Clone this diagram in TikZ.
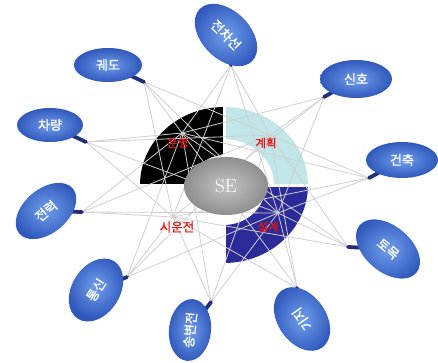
\documentclass[tikz,border=0pt]{standalone}
\usepackage{fontspec}
\newfontfamily\kr[AutoFakeBold=1.2]{Noto Sans CJK KR}
\usetikzlibrary{shapes.geometric}

\definecolor{balloonin}{RGB}{112,158,236}
\definecolor{balloonout}{RGB}{48,88,188}
\definecolor{stemnavy}{RGB}{34,48,120}
\definecolor{webgray}{RGB}{208,208,208}
\definecolor{ringcyan}{RGB}{192,230,233}
\definecolor{ringblue}{RGB}{42,42,152}
\definecolor{labelred}{RGB}{228,22,22}
\definecolor{sein}{RGB}{196,196,196}
\definecolor{seout}{RGB}{142,142,142}

\tikzset{
  balloon/.style={ellipse, inner sep=0pt, inner color=balloonin, outer color=balloonout,
    text=white, font=\kr\bfseries\fontsize{13}{13}\selectfont},
  tail/.style={draw=stemnavy, line width=3.8pt, line cap=round},
  web/.style={draw=webgray, line width=0.8pt},
  phase/.style={text=labelred, font=\kr\bfseries\fontsize{11.5}{12}\selectfont, inner sep=0pt},
}

\begin{document}
\begin{tikzpicture}[x=1pt,y=1pt]
\clip (0,0) rectangle (438,-363);
\fill[white] (0,0) rectangle (438,-363);

% ring quarters around the centre (224,-185)
\fill[black] (140,-185) arc[start angle=180,end angle=90,x radius=84,y radius=78]
  -- (224,-155) arc[start angle=90,end angle=180,x radius=32,y radius=30] -- cycle;
\fill[ringcyan] (224,-107) arc[start angle=90,end angle=0,x radius=84,y radius=78]
  -- (274,-185) arc[start angle=0,end angle=90,x radius=50,y radius=46] -- cycle;
\fill[ringblue] (308,-185) arc[start angle=0,end angle=-90,x radius=84,y radius=78]
  -- (224,-225) arc[start angle=-90,end angle=0,x radius=42,y radius=40] -- cycle;
\draw[white, line width=3pt] (224.5,-100) -- (224.5,-270);
\draw[white, line width=3pt] (130,-185.5) -- (320,-185.5);

% hubs of the four phases
\coordinate (h-op) at (182,-133);
\coordinate (h-pl) at (270,-135);
\coordinate (h-de) at (278,-213);
\coordinate (h-tr) at (173,-217);

% balloon centres and tail ends
\coordinate (c-gd) at (108,-65);  \coordinate (s-gd) at (144,-82);
\coordinate (c-cr) at (50,-125);  \coordinate (s-cr) at (86,-142);
\coordinate (c-jr) at (46,-211);  \coordinate (s-jr) at (82,-212);
\coordinate (c-ts) at (96,-290);  \coordinate (s-ts) at (127,-277);
\coordinate (c-sb) at (190,-330); \coordinate (s-sb) at (211,-302);
\coordinate (c-gj) at (302,-319); \coordinate (s-gj) at (297,-288);
\coordinate (c-tm) at (388,-249); \coordinate (s-tm) at (348,-247);
\coordinate (c-gc) at (402,-160); \coordinate (s-gc) at (369,-178);
\coordinate (c-sh) at (356,-79);  \coordinate (s-sh) at (324,-97);
\coordinate (c-jc) at (226,-35);  \coordinate (s-jc) at (231,-65);

% web of links from every tail to every phase hub
\foreach \s in {gd,cr,jr,ts,sb,gj,tm,gc,sh,jc}
  \foreach \h in {op,pl,de,tr}
    \draw[web] (s-\s) -- (h-\h);

% centre
\node[ellipse, minimum width=84pt, minimum height=58pt, inner color=sein, outer color=seout,
  text=white, font=\fontsize{19}{19}\selectfont] (se) at (226,-186) {SE};

% phase labels
\node[phase] (l-op) at (178,-143) {운영};
\node[phase] (l-pl) at (266,-143) {계획};
\node[phase] (l-de) at (268,-227) {설계};
\node[phase, font=\kr\bfseries\fontsize{12.5}{13}\selectfont] (l-tr) at (177,-227) {시운전};

% balloons
\foreach \s in {gd,cr,jr,ts,sb,gj,tm,gc,sh,jc}
  \draw[tail] (c-\s) -- (s-\s);

\node[balloon, minimum width=68pt, minimum height=34pt] (b-gd) at (c-gd) {궤도};
\node[balloon, minimum width=66pt, minimum height=34pt] (b-cr) at (c-cr) {차량};
\node[balloon, minimum width=70pt, minimum height=44pt, rotate=40] (b-jr) at (c-jr) {전력};
\node[balloon, minimum width=68pt, minimum height=48pt, rotate=58] (b-ts) at (c-ts) {통신};
\node[balloon, minimum width=62pt, minimum height=42pt, rotate=84] (b-sb) at (c-sb) {송변전};
\node[balloon, minimum width=70pt, minimum height=48pt, rotate=125] (b-gj) at (c-gj) {기지};
\node[balloon, minimum width=74pt, minimum height=46pt, rotate=-40] (b-tm) at (c-tm) {토목};
\node[balloon, minimum width=72pt, minimum height=36pt] (b-gc) at (c-gc) {건축};
\node[balloon, minimum width=72pt, minimum height=38pt] (b-sh) at (c-sh) {신호};
\node[balloon, minimum width=74pt, minimum height=48pt, rotate=-45] (b-jc) at (c-jc) {전차선};
\end{tikzpicture}
\end{document}
